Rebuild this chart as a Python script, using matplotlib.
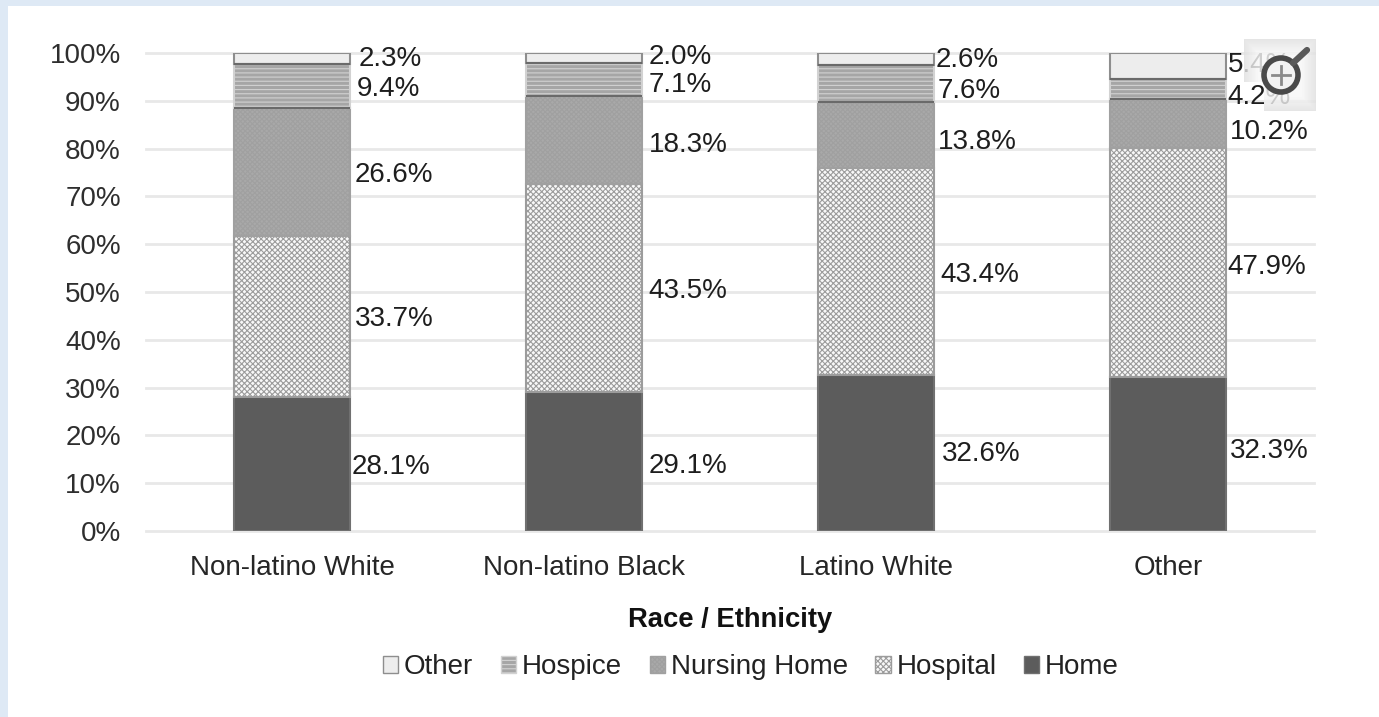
import numpy as np
import matplotlib
matplotlib.use("Agg")
import matplotlib.pyplot as plt
from matplotlib.patches import Rectangle, Circle

plt.rcParams["font.family"] = ["Liberation Sans", "DejaVu Sans"]
plt.rcParams["hatch.linewidth"] = 0.8

W, H = 1379, 717

groups = ["Non-latino White", "Non-latino Black", "Latino White", "Other"]
home = [28.1, 29.1, 32.6, 32.3]
hospital = [33.7, 43.5, 43.4, 47.9]
nursing = [26.6, 18.3, 13.8, 10.2]
hospice = [9.4, 7.1, 7.6, 4.2]
other = [2.3, 2.0, 2.6, 5.4]
yticks = [0, 10, 20, 30, 40, 50, 60, 70, 80, 90, 100]

# where the value labels sit: y in percent, x as pixels right of the bar edge
home_label_y = [13.7, 14.0, 16.5, 17.2]
hospital_label_y = [44.8, 50.6, 54.0, 55.6]
nursing_label_y = [74.9, 81.2, 81.8, 83.9]
hospice_label_y = [92.9, 93.8, 92.5, 91.2]
other_label_y = [99.2, 99.6, 99.0, 97.9]
label_dx = [[1, 4, 4, 6, 8], [6, 6, 6, 6, 6], [7, 6, 3, 3, 1], [3, 1, 3, 1, 1]]

fig = plt.figure(figsize=(W / 100, H / 100), dpi=100, facecolor="#DEE9F5")
fig.patches.append(Rectangle((8 / W, 0), 1 - 8 / W, 1 - 6 / H, transform=fig.transFigure,
                             facecolor="white", edgecolor="none", zorder=-10))

ax = fig.add_axes([146 / W, (H - 531) / H, 1168 / W, 478 / H])
ax.patch.set_alpha(0)
ax.set_xlim(-0.5, 3.5)
ax.set_ylim(0, 100)

series = [
    ("Home", home, home_label_y, dict(facecolor="#5C5C5C", edgecolor="#707070")),
    ("Hospital", hospital, hospital_label_y, dict(facecolor="#F8F8F8", edgecolor="#9C9C9C", hatch="xxxxxx")),
    ("Nursing Home", nursing, nursing_label_y, dict(facecolor="#A9A9A9", edgecolor="#A0A0A0", hatch="xxxxxxx")),
    ("Hospice", hospice, hospice_label_y, dict(facecolor="#A6A6A6", edgecolor="#D2D2D2", hatch="----")),
    ("Other", other, other_label_y, dict(facecolor="#EDEDED", edgecolor="#8E8E8E")),
]

x = np.arange(len(groups))
bar_w = 0.4
bottom = np.zeros(len(groups))
for k, (name, vals, label_y, style) in enumerate(series):
    ax.bar(x, vals, bar_w, bottom=bottom, label=name, linewidth=1.5, zorder=3, **style)
    bottom += np.array(vals)
    for i, v in enumerate(vals):
        ax.annotate(f"{v:.1f}%", (x[i] + bar_w / 2, label_y[i]), xytext=(label_dx[i][k] * 0.72, -1.4),
                    textcoords="offset points", va="center", ha="left",
                    fontsize=20, color="#1E1E1E", zorder=4)

# dark rules along the top and bottom of the hospice segment
ax.hlines(np.array(home) + np.array(hospital) + np.array(nursing), x - bar_w / 2, x + bar_w / 2,
          color="#6A6A6A", linewidth=1.5, zorder=3.5)
ax.hlines(np.array(home) + np.array(hospital) + np.array(nursing) + np.array(hospice),
          x - bar_w / 2, x + bar_w / 2, color="#6A6A6A", linewidth=1.5, zorder=3.5)

ax.set_yticks(yticks)
ax.set_yticklabels([f"{t}%" for t in yticks])
ax.set_xticks(x)
ax.set_xticklabels(groups)
ax.tick_params(axis="y", length=0, pad=18, labelsize=20, labelcolor="#2E2E2E")
ax.tick_params(axis="x", length=0, pad=17, labelsize=20, labelcolor="#262626")
ax.grid(axis="y", color="#E8E8E8", linewidth=2, zorder=0, clip_on=False)
ax.set_axisbelow(True)
for s in ax.spines.values():
    s.set_visible(False)
ax.set_xlabel("Race / Ethnicity", fontsize=19.7, fontweight="bold", color="#111111", labelpad=19)

handles, labels = ax.get_legend_handles_labels()
leg = fig.legend(handles[::-1], labels[::-1], ncol=5, frameon=False, fontsize=20,
                 loc="center", bbox_to_anchor=(751 / W, (H - 667) / H),
                 handlelength=0.55, handleheight=0.55, handletextpad=0.2,
                 columnspacing=1.0, labelcolor="#222222")
for h in leg.legend_handles:
    h.set_linewidth(1)

# zoom button in the corner of the chart
icon = fig.add_axes([1244 / W, (H - 111) / H, 72 / W, 72 / H], zorder=5)
icon.axis("off")
yy, xx = np.mgrid[0:72, 0:72]
edge = np.minimum.reduce([xx, 71 - xx, yy, 71 - yy]) / 14
rgba = np.ones((72, 72, 4))
rgba[..., :3] = (0.97 - 0.09 * (1 - np.clip(edge, 0, 1)))[..., None]
rgba[..., 3] = 0.82
# the lower left corner of the button lets the label behind it through
rgba[..., 3][(yy > 42) & (xx < 20)] = 0.0
icon.imshow(rgba, extent=(0, 72, 72, 0), aspect="auto", interpolation="nearest")
icon.add_patch(Circle((37, 36), 17, facecolor="#F2F2F2", edgecolor="#4A4A4A", linewidth=4))
icon.plot([49, 63], [24, 11], color="#5A5A5A", linewidth=4.5, solid_capstyle="round")
icon.plot([37, 37], [27, 45], color="#8A8A8A", linewidth=2)
icon.plot([28, 46], [36, 36], color="#8A8A8A", linewidth=2)
icon.set_xlim(0, 72)
icon.set_ylim(72, 0)

fig.savefig("out.png", dpi=100, facecolor=fig.get_facecolor())
